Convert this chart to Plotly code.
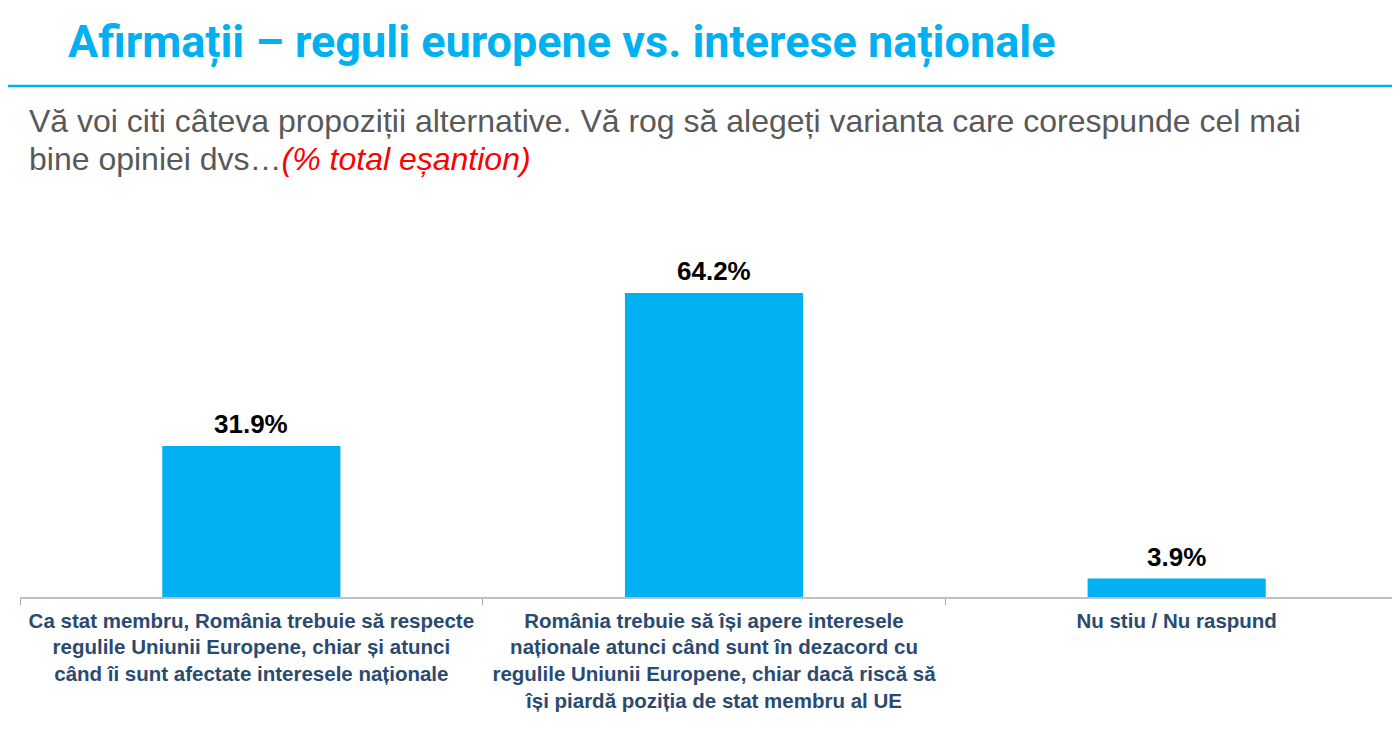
import plotly.graph_objects as go

categories = [
    "Ca stat membru, România trebuie să respecte<br>regulile Uniunii Europene, chiar și atunci<br>când îi sunt afectate interesele naționale",
    "România trebuie să își apere interesele<br>naționale atunci când sunt în dezacord cu<br>regulile Uniunii Europene, chiar dacă riscă să<br>își piardă poziția de stat membru al UE",
    "Nu stiu / Nu raspund",
]
values = [31.9, 64.2, 3.9]
value_labels = ["31.9%", "64.2%", "3.9%"]

OFF = 8  # page body margin
W, H = 1400, 729
L, R = 20 - OFF, 0
T = 200 - OFF
B = H - (597 - OFF)
ph = H - T - B

def py(y):  # page y -> paper y
    return (H - B - (y - OFF)) / ph

def px(x):  # page x -> paper x
    return (x - OFF - L) / (W - L - R)

fig = go.Figure()
fig.add_trace(go.Bar(
    x=[f"<b>{c}</b>" for c in categories],
    y=values,
    width=0.385,
    marker=dict(color="#00B0F0", line=dict(width=0)),
    hoverinfo="skip",
))

for c, v, t in zip(categories, values, value_labels):
    fig.add_annotation(
        x=f"<b>{c}</b>", y=v, text=f"<b>{t}</b>", showarrow=False,
        xref="x", yref="y", yanchor="bottom", yshift=5,
        font=dict(family="Liberation Sans", size=26, color="#000000"),
    )

fig.update_layout(
    width=W, height=H,
    margin=dict(l=L, r=R, t=T, b=B, autoexpand=False),
    paper_bgcolor="white", plot_bgcolor="white",
    showlegend=False,
    title=dict(
        text="<b>Afirmații – reguli europene vs. interese naționale</b>",
        xref="container", yref="container", x=(68 - OFF) / W, y=1 - (41 - OFF) / H,
        xanchor="left", yanchor="middle",
        font=dict(family="Roboto", size=45, color="#00B0F0"),
    ),
    xaxis=dict(
        type="category",
        range=[-0.5, 2.5],
        tickangle=0,
        ticklabelstandoff=4,
        showline=True, linecolor="#BFBFBF", linewidth=2,
        ticks="outside", tickson="boundaries", ticklen=6, tickcolor="#A6A6A6", tickwidth=1,
        tickfont=dict(family="Liberation Sans", size=20.5, color="#2B4A70"),
        showgrid=False, zeroline=False, fixedrange=True,
    ),
    yaxis=dict(
        range=[0, ph / 4.735],
        visible=False, showgrid=False, zeroline=False, fixedrange=True,
    ),
    shapes=[
        dict(type="line", xref="paper", yref="paper",
             x0=px(0), x1=px(W + OFF), y0=py(86), y1=py(86),
             line=dict(color="#00B0F0", width=2.5)),
    ],
)

fig.add_annotation(
    xref="paper", yref="paper", x=px(27), y=py(121),
    xanchor="left", yanchor="middle", showarrow=False, align="left",
    text="Vă voi citi câteva propoziții alternative. Vă rog să alegeți varianta care corespunde cel mai",
    font=dict(family="Liberation Sans", size=32, color="#595959"),
)
fig.add_annotation(
    xref="paper", yref="paper", x=px(27), y=py(159),
    xanchor="left", yanchor="middle", showarrow=False, align="left",
    text="bine opiniei dvs…<span style='color:#FF0000'><i>(% total eșantion)</i></span>",
    font=dict(family="Liberation Sans", size=32, color="#595959"),
)

fig.write_html("out.html")
